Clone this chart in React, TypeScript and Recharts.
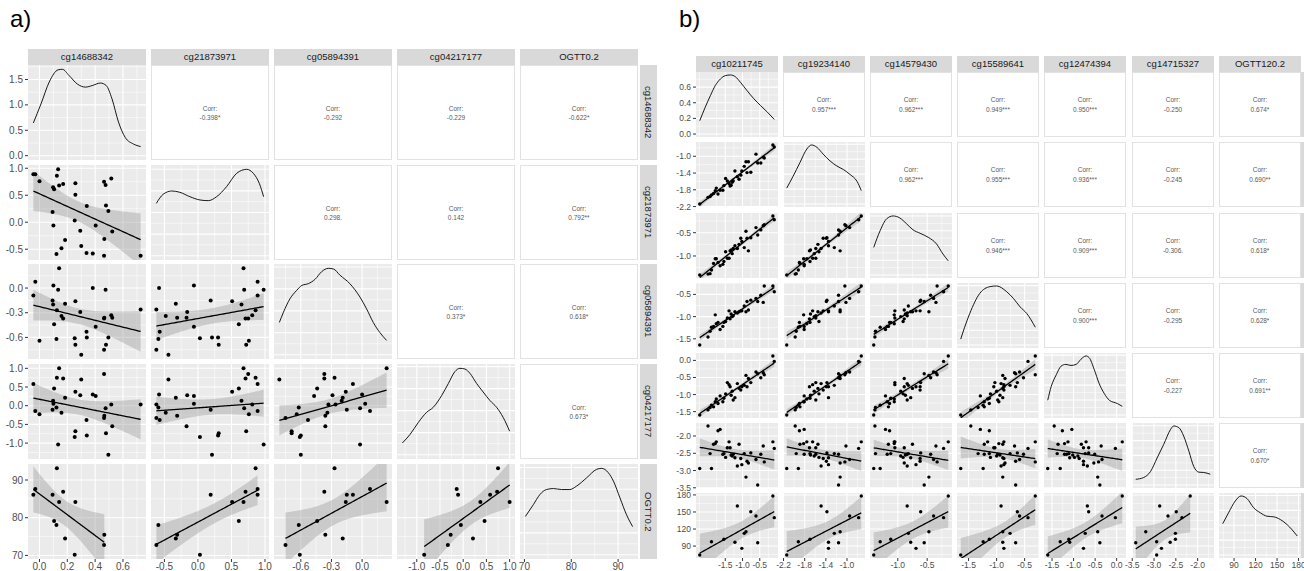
import React from "react";
import { ComposedChart, Scatter, Line, Area, XAxis, YAxis, CartesianGrid } from "recharts";

const FONT = '"Liberation Sans", Arial, Helvetica, sans-serif';

// ---------- a) 5 variables, 32 samples (OGTT measured for 13 of them) ----------
const A_NAMES = ["cg14688342", "cg21873971", "cg05894391", "cg04217177", "OGTT0.2"];
const A_CG14688342 = [-0.044, -0.03, 0.0, 0.094, 0.098, 0.1, 0.105, 0.122, 0.125, 0.134, 0.141, 0.158, 0.17, 0.184, 0.253, 0.258, 0.258, 0.293, 0.3, 0.338, 0.34, 0.383, 0.404, 0.464, 0.464, 0.466, 0.475, 0.478, 0.495, 0.516, 0.523, 0.727];
const A_CG21873971 = [0.89, 0.89, 0.76, 0.19, 0.65, -0.06, 0.61, -0.59, 0.86, 0.98, 0.68, -0.48, 0.71, -0.33, 0.03, 0.72, 0.51, -0.16, -0.44, -0.57, 0.3, -0.58, -0.06, 0.75, -0.62, -0.31, 0.69, 0.31, 0.21, 0.81, -0.17, -0.62];
const A_CG05894391 = [-0.09, 0.077, -0.64, -0.15, -0.2, 0.03, -0.44, -0.62, -0.27, -0.02, 0.24, -0.34, -0.37, -0.19, -0.61, -0.69, -0.16, -0.29, -0.81, -0.53, -0.6, 0.0, -0.47, -0.37, -0.75, -0.36, -0.02, -0.69, -0.6, -0.33, -0.36, -0.26];
const A_CG04217177 = [0.58, -0.14, -0.23, -0.11, 0.13, 0.05, 0.46, -0.05, 0.75, -1.04, 1.0, -0.19, 0.73, 0.21, -0.84, -0.68, 0.37, 0.28, 0.7, -0.38, -0.8, 0.3, 0.26, 0.85, -0.33, -0.27, -0.07, -0.74, -1.31, 0.03, -0.55, 0.03];
const A_OGTT = [86.1, 87.6, null, 86.1, null, null, 79.1, 78.1, 93.1, null, 84.2, null, 86.9, 74.5, 70.2, null, 84.2, null, null, null, null, null, null, null, 72.8, 75.5, null, null, null, null, null, null];

const A_TICKS = [[0, 0.2, 0.4, 0.6], [-0.5, 0, 0.5, 1], [-0.6, -0.3, 0], [-1, -0.5, 0, 0.5, 1], [70, 80, 90]];
const A_DENS_TICKS = [0, 0.5, 1, 1.5];

// diagonal density curves, [value, density] (first one in real units, others relative to peak)
const A_DENS_1 = [[-0.044, 0.645], [0.011, 1.02], [0.07, 1.45], [0.134, 1.69], [0.165, 1.7], [0.212, 1.58], [0.272, 1.41], [0.331, 1.35], [0.379, 1.38], [0.438, 1.43], [0.48, 1.38], [0.521, 1.12], [0.568, 0.66], [0.616, 0.36], [0.675, 0.23], [0.727, 0.18]];
const A_DENS_2 = [[-0.62, 0.606], [-0.52, 0.71], [-0.39, 0.749], [-0.27, 0.734], [-0.12, 0.683], [0.03, 0.645], [0.154, 0.637], [0.279, 0.683], [0.428, 0.8], [0.578, 0.954], [0.727, 1.0], [0.826, 0.954], [0.915, 0.838], [0.98, 0.683]];
const A_DENS_3 = [[-0.81, 0.368], [-0.77, 0.484], [-0.706, 0.638], [-0.64, 0.734], [-0.59, 0.79], [-0.527, 0.81], [-0.46, 0.86], [-0.396, 0.947], [-0.33, 0.985], [-0.28, 0.977], [-0.217, 0.907], [-0.12, 0.81], [-0.021, 0.657], [0.044, 0.522], [0.109, 0.368], [0.174, 0.252], [0.24, 0.163]];
const A_DENS_4 = [[-1.31, 0.133], [-1.146, 0.229], [-0.968, 0.365], [-0.79, 0.48], [-0.645, 0.538], [-0.464, 0.672], [-0.32, 0.808], [-0.18, 0.943], [-0.07, 0.981], [0.037, 0.973], [0.145, 0.924], [0.29, 0.808], [0.43, 0.712], [0.576, 0.615], [0.72, 0.538], [0.862, 0.422], [1.0, 0.267]];
const A_DENS_5 = [[70.2, 0.438], [71.9, 0.573], [73.3, 0.689], [74.7, 0.747], [76.2, 0.758], [77.9, 0.747], [79.7, 0.747], [81.1, 0.785], [83.3, 0.882], [85.4, 0.978], [86.5, 0.99], [87.9, 0.94], [89.0, 0.843], [90.4, 0.65], [91.8, 0.457], [93.1, 0.322]];

const A_CORR = [
  ["-0.398*", "-0.292", "-0.229", "-0.622*"],
  ["0.298.", "0.142", "0.792**"],
  ["0.373*", "0.618*"],
  ["0.673*"],
];

// ---------- b) 7 variables, 35 samples (OGTT measured for 13 of them) ----------
const B_NAMES = ["cg10211745", "cg19234140", "cg14579430", "cg15589641", "cg12474394", "cg14715327", "OGTT120.2"];
const B_CG10211745 = [-2.24, -2.0, -1.94, -1.9, -1.84, -1.79, -1.76, -1.71, -1.65, -1.57, -1.54, -1.49, -1.44, -1.39, -1.36, -1.33, -1.3, -1.27, -1.22, -1.15, -1.1, -1.05, -1.02, -0.95, -0.9, -0.87, -0.83, -0.76, -0.61, -0.56, -0.47, -0.4, -0.37, -0.12, -0.08];
const B_CG19234140 = [-2.14, -1.98, -1.96, -1.92, -1.89, -1.82, -1.76, -1.9, -1.81, -1.81, -1.7, -1.53, -1.59, -1.65, -1.71, -1.69, -1.62, -1.59, -1.35, -1.49, -1.55, -1.45, -1.35, -1.24, -1.13, -1.39, -1.13, -1.38, -0.95, -1.16, -1.16, -1.02, -1.04, -0.73, -0.78];
const B_CG14579430 = [-1.41, -1.39, -1.38, -1.3, -1.16, -1.06, -1.06, -1.14, -1.21, -1.18, -1.12, -0.91, -1.05, -1.05, -0.89, -0.87, -0.95, -0.84, -0.78, -0.84, -0.75, -0.62, -0.69, -0.82, -0.47, -0.62, -0.89, -0.61, -0.39, -0.55, -0.44, -0.35, -0.33, -0.14, -0.22];
const B_CG15589641 = [-1.64, -1.46, -1.33, -1.24, -1.22, -0.96, -1.16, -1.13, -1.29, -1.22, -1.13, -1.11, -1.03, -0.87, -1.05, -0.94, -1.0, -0.98, -0.89, -0.92, -0.89, -0.87, -0.87, -0.76, -0.89, -0.66, -0.85, -0.63, -0.59, -0.66, -0.52, -0.68, -0.31, -0.31, -0.44];
const B_CG12474394 = [-1.6, -1.45, -1.38, -1.31, -1.36, -1.21, -1.13, -1.26, -1.04, -1.21, -1.11, -0.98, -0.65, -0.71, -0.77, -1.02, -0.9, -1.16, -1.09, -0.68, -0.82, -0.87, -0.77, -0.73, -0.44, -0.77, -0.53, -0.65, -0.34, -0.39, -0.51, -0.36, -0.42, 0.13, -0.03];
const B_CG14715327 = [-2.94, -1.71, -2.51, -2.94, -2.24, -2.22, -2.17, -1.85, -1.81, -2.53, -2.51, -2.62, -2.34, -2.17, -2.34, -2.55, -2.58, -2.53, -2.63, -2.87, -2.24, -2.65, -2.83, -2.51, -3.19, -2.73, -2.78, -2.49, -2.68, -3.42, -2.53, -2.29, -2.75, -2.17, -2.36];
const B_OGTT = [74.2, null, null, 97.6, null, null, null, null, null, null, 101.9, null, null, null, null, null, null, null, 96.6, 160.6, null, null, 86.0, 112.4, 115.3, null, null, 150.5, 143.0, 95.9, null, null, null, 178.2, 140.0];

const B_TICKS = [[-1.5, -1, -0.5], [-2.2, -1.8, -1.4, -1.0], [-1.0, -0.5], [-1.5, -1, -0.5], [-1.5, -1, -0.5, 0], [-3.5, -3, -2.5, -2], [90, 120, 150, 180]];
const B_DENS_TICKS = [0, 0.2, 0.4, 0.6];

const B_DENS_1 = [[-2.24, 0.17], [-2.08, 0.343], [-1.93, 0.492], [-1.79, 0.619], [-1.64, 0.704], [-1.5, 0.746], [-1.35, 0.755], [-1.21, 0.733], [-1.06, 0.661], [-0.87, 0.555], [-0.67, 0.45], [-0.48, 0.365], [-0.28, 0.28], [-0.08, 0.187]];
const B_DENS_2 = [[-2.14, 0.266], [-2.02, 0.464], [-1.89, 0.693], [-1.76, 0.92], [-1.67, 0.988], [-1.57, 0.949], [-1.45, 0.834], [-1.32, 0.72], [-1.19, 0.635], [-1.07, 0.578], [-0.94, 0.493], [-0.81, 0.379], [-0.73, 0.225]];
const B_DENS_3 = [[-1.41, 0.468], [-1.3, 0.753], [-1.19, 0.952], [-1.08, 1.0], [-0.97, 0.969], [-0.85, 0.867], [-0.74, 0.765], [-0.62, 0.707], [-0.48, 0.638], [-0.34, 0.526], [-0.23, 0.355], [-0.14, 0.24]];
const B_DENS_4 = [[-1.64, 0.1], [-1.57, 0.3], [-1.48, 0.529], [-1.3, 0.87], [-1.12, 0.983], [-1.0, 0.995], [-0.82, 0.898], [-0.7, 0.785], [-0.58, 0.642], [-0.46, 0.529], [-0.31, 0.3]];
const B_DENS_5 = [[-1.6, 0.247], [-1.52, 0.474], [-1.4, 0.674], [-1.29, 0.816], [-1.18, 0.845], [-1.06, 0.828], [-0.94, 0.845], [-0.83, 0.93], [-0.71, 0.986], [-0.64, 0.959], [-0.52, 0.759], [-0.41, 0.532], [-0.29, 0.362], [-0.17, 0.247], [0.02, 0.191], [0.13, 0.145]];
const B_DENS_6 = [[-3.42, 0.097], [-3.24, 0.126], [-3.08, 0.229], [-2.93, 0.456], [-2.78, 0.683], [-2.62, 0.939], [-2.55, 0.997], [-2.43, 0.968], [-2.32, 0.826], [-2.2, 0.57], [-2.09, 0.314], [-1.97, 0.217], [-1.86, 0.212], [-1.71, 0.183]];
const B_DENS_7 = [[74.2, 0.527], [82.3, 0.71], [91.7, 0.908], [99.7, 0.993], [108.1, 0.949], [117.3, 0.795], [126.7, 0.71], [136.1, 0.652], [145.3, 0.642], [154.7, 0.596], [164.1, 0.51], [178.2, 0.32]];

const B_CORR = [
  ["0.957***", "0.962***", "0.949***", "0.950***", "-0.250", "0.674*"],
  ["0.962***", "0.955***", "0.936***", "-0.245", "0.690**"],
  ["0.946***", "0.909***", "-0.306.", "0.618*"],
  ["0.900***", "-0.295", "0.628*"],
  ["-0.227", "0.691**"],
  ["0.670*"],
];

const REL_TICKS = [0, 0.25, 0.5, 0.75, 1];
const PAD = 10; // room round each small chart so edge tick labels are not clipped

type Fig = {
  title: string; titleX: number;
  names: string[]; vars: (number | null)[][]; ticks: number[][];
  dens: number[][][]; densTicks: number[]; corr: string[][];
  x0: number; dx: number; y0: number; dy: number; w: number; h: number;
  stripTop: number; stripH: number; stripRight: number; stripW: number;
  axisW: number; axisH: number; axisFont: number; stripFont: number;
  corrFont: number; corrLine: number; dotR: number;
};

const FIG_A: Fig = {
  title: "a)", titleX: 10,
  names: A_NAMES, vars: [A_CG14688342, A_CG21873971, A_CG05894391, A_CG04217177, A_OGTT], ticks: A_TICKS,
  dens: [A_DENS_1, A_DENS_2, A_DENS_3, A_DENS_4, A_DENS_5], densTicks: A_DENS_TICKS, corr: A_CORR,
  x0: 28, dx: 123, y0: 65, dy: 99.7, w: 118, h: 95,
  stripTop: 49, stripH: 16, stripRight: 640, stripW: 17,
  axisW: 28, axisH: 14, axisFont: 10, stripFont: 9.5, corrFont: 6.5, corrLine: 9, dotR: 2,
};

const FIG_B: Fig = {
  title: "b)", titleX: 679,
  names: B_NAMES, vars: [B_CG10211745, B_CG19234140, B_CG14579430, B_CG15589641, B_CG12474394, B_CG14715327, B_OGTT], ticks: B_TICKS,
  dens: [B_DENS_1, B_DENS_2, B_DENS_3, B_DENS_4, B_DENS_5, B_DENS_6, B_DENS_7], densTicks: B_DENS_TICKS, corr: B_CORR,
  x0: 695.7, dx: 87.17, y0: 72.1, dy: 70.2, w: 82, h: 65,
  stripTop: 56, stripH: 16, stripRight: 1301, stripW: 17,
  axisW: 22, axisH: 13, axisFont: 8.5, stripFont: 9.5, corrFont: 6.5, corrLine: 9.5, dotR: 1.7,
};

function numbers(v: (number | null)[]) {
  return v.filter((x) => x !== null) as number[];
}

// ggplot-style limits: data range plus 5% on each side
function expand(v: number[]): [number, number] {
  const lo = Math.min(...v), hi = Math.max(...v), r = hi - lo;
  return [lo - 0.05 * r, hi + 0.05 * r];
}

function gridOf(ticks: number[], d: [number, number]) {
  const step = ticks[1] - ticks[0];
  const minor: number[] = [];
  for (let k = -2; k < ticks.length + 1; k++) {
    const m = ticks[0] + (k + 0.5) * step;
    if (m > d[0] && m < d[1]) minor.push(m);
  }
  return { major: ticks.filter((t) => t >= d[0] && t <= d[1]), minor };
}

function fmt(ticks: number[]) {
  const dec = Math.max(...ticks.map((t) => {
    const s = String(t);
    const k = s.indexOf(".");
    return k < 0 ? 0 : s.length - k - 1;
  }));
  return (v: number) => v.toFixed(dec);
}

function tQuant(df: number) {
  const z = 1.959964;
  return z + (z ** 3 + z) / (4 * df) + (5 * z ** 5 + 16 * z ** 3 + 3 * z) / (96 * df * df);
}

// linear fit with 95% confidence band, as geom_smooth(method = "lm")
function smoothRows(pts: { x: number; y: number }[]) {
  const n = pts.length;
  const mx = pts.reduce((s, p) => s + p.x, 0) / n;
  const my = pts.reduce((s, p) => s + p.y, 0) / n;
  let sxx = 0, sxy = 0;
  pts.forEach((p) => { sxx += (p.x - mx) ** 2; sxy += (p.x - mx) * (p.y - my); });
  const b = sxy / sxx, a = my - b * mx;
  let sse = 0;
  pts.forEach((p) => { sse += (p.y - a - b * p.x) ** 2; });
  const s = Math.sqrt(sse / (n - 2));
  const t = tQuant(n - 2);
  const lo = Math.min(...pts.map((p) => p.x)), hi = Math.max(...pts.map((p) => p.x));
  const rows = [];
  for (let k = 0; k <= 60; k++) {
    const x = lo + ((hi - lo) * k) / 60;
    const fit = a + b * x;
    const se = s * Math.sqrt(1 / n + (x - mx) ** 2 / sxx);
    rows.push({ x, fit, band: [fit - t * se, fit + t * se] });
  }
  return rows;
}

function Panel({ fig, i, j, doms }: { fig: Fig; i: number; j: number; doms: [number, number][] }) {
  const n = fig.names.length;
  const left = Math.round(fig.x0 + j * fig.dx);
  const top = Math.round(fig.y0 + i * fig.dy);

  if (i < j) {
    return (
      <div
        style={{
          position: "absolute", left, top, width: fig.w, height: fig.h, boxSizing: "border-box",
          background: "#FFFFFF", border: "1px solid #E2E2E2", display: "flex", flexDirection: "column",
          alignItems: "center", justifyContent: "center", fontSize: fig.corrFont, lineHeight: `${fig.corrLine}px`,
          color: "#5A5A5A",
        }}
      >
        <div>Corr:</div>
        <div>{fig.corr[i][j - i - 1]}</div>
      </div>
    );
  }

  const showY = j === 0;
  const showX = i === n - 1;
  const aw = showY ? fig.axisW : 0;
  const ah = showX ? fig.axisH : 0;
  const xd = doms[j];
  const xt = fig.ticks[j];
  const xg = gridOf(xt, xd);

  let yd: [number, number];
  let yt: number[];
  if (i === j) {
    const m = Math.max(...fig.dens[i].map((p) => p[1]));
    yd = [-0.05 * m, 1.05 * m];
    yt = i === 0 ? fig.densTicks : REL_TICKS;
  } else {
    yd = doms[i];
    yt = fig.ticks[i];
  }
  const yg = gridOf(yt, yd);

  const tickStyle = { fontSize: fig.axisFont, fill: "#4D4D4D", fontFamily: FONT };

  let data: any[];
  let pts: { x: number; y: number }[] = [];
  if (i === j) {
    data = fig.dens[i].map((p) => ({ x: p[0], d: p[1] }));
  } else {
    const xs = fig.vars[j], ys = fig.vars[i];
    pts = xs
      .map((x, k) => ({ x: x as number, y: ys[k] as number }))
      .filter((p) => p.x !== null && p.y !== null);
    data = smoothRows(pts);
  }

  const r = fig.dotR;

  return (
    <div style={{ position: "absolute", left: left - aw - PAD, top: top - PAD }}>
      <ComposedChart
        width={fig.w + aw + 2 * PAD}
        height={fig.h + ah + 2 * PAD}
        data={data}
        margin={{ top: PAD, right: PAD, bottom: PAD, left: PAD }}
      >
        <CartesianGrid fill="#EBEBEB" stroke="#FFFFFF" strokeWidth={0.55} verticalValues={xg.minor} horizontalValues={yg.minor} />
        <CartesianGrid stroke="#FFFFFF" strokeWidth={1.1} verticalValues={xg.major} horizontalValues={yg.major} />
        <XAxis
          type="number" dataKey="x" domain={xd} allowDataOverflow ticks={xt} interval={0}
          hide={!showX} height={fig.axisH} axisLine={false} tickSize={3} tickMargin={1}
          tickLine={{ stroke: "#333333" }} tick={tickStyle} tickFormatter={fmt(xt)}
        />
        <YAxis
          type="number" domain={yd} allowDataOverflow ticks={yt} interval={0}
          hide={!showY} width={fig.axisW} axisLine={false} tickSize={3} tickMargin={2}
          tickLine={{ stroke: "#333333" }} tick={tickStyle} tickFormatter={fmt(yt)}
        />
        {i === j ? (
          <Line type="monotone" dataKey="d" stroke="#000000" strokeWidth={0.9} dot={false} isAnimationActive={false} />
        ) : null}
        {i !== j ? (
          <Scatter
            data={pts} dataKey="y" isAnimationActive={false}
            shape={(p: any) => <circle cx={p.cx} cy={p.cy} r={r} fill="#000000" />}
          />
        ) : null}
        {i !== j ? (
          <Area type="linear" dataKey="band" stroke="none" fill="#999999" fillOpacity={0.4} isAnimationActive={false} />
        ) : null}
        {i !== j ? (
          <Line type="linear" dataKey="fit" stroke="#000000" strokeWidth={1.3} dot={false} isAnimationActive={false} />
        ) : null}
      </ComposedChart>
    </div>
  );
}

function Figure({ fig }: { fig: Fig }) {
  const n = fig.names.length;
  const doms = fig.vars.map((v) => expand(numbers(v)));
  const cells = [];
  for (let i = 0; i < n; i++) {
    for (let j = 0; j < n; j++) {
      cells.push(<Panel key={`${i}-${j}`} fig={fig} i={i} j={j} doms={doms} />);
    }
  }
  return (
    <>
      <div style={{ position: "absolute", left: fig.titleX, top: 5, fontSize: 24, lineHeight: "28px", color: "#000" }}>
        {fig.title}
      </div>
      {fig.names.map((name, j) => (
        <div
          key={`top-${name}`}
          style={{
            position: "absolute", left: Math.round(fig.x0 + j * fig.dx), top: fig.stripTop, width: fig.w, height: fig.stripH,
            background: "#D9D9D9", color: "#1A1A1A", fontSize: fig.stripFont, lineHeight: `${fig.stripH}px`, textAlign: "center",
          }}
        >
          {name}
        </div>
      ))}
      {fig.names.map((name, i) => (
        <div
          key={`right-${name}`}
          style={{
            position: "absolute", left: fig.stripRight, top: Math.round(fig.y0 + i * fig.dy), width: fig.stripW, height: fig.h,
            background: "#D9D9D9", color: "#1A1A1A", fontSize: fig.stripFont, display: "flex", alignItems: "center",
            justifyContent: "center",
          }}
        >
          <span style={{ writingMode: "vertical-rl" }}>{name}</span>
        </div>
      ))}
      {cells}
    </>
  );
}

export default function App() {
  return (
    <div
      style={{
        position: "absolute", left: 0, top: 0, width: 1304, height: 571, overflow: "hidden",
        background: "#FFFFFF", fontFamily: FONT,
      }}
    >
      <Figure fig={FIG_A} />
      <Figure fig={FIG_B} />
    </div>
  );
}
